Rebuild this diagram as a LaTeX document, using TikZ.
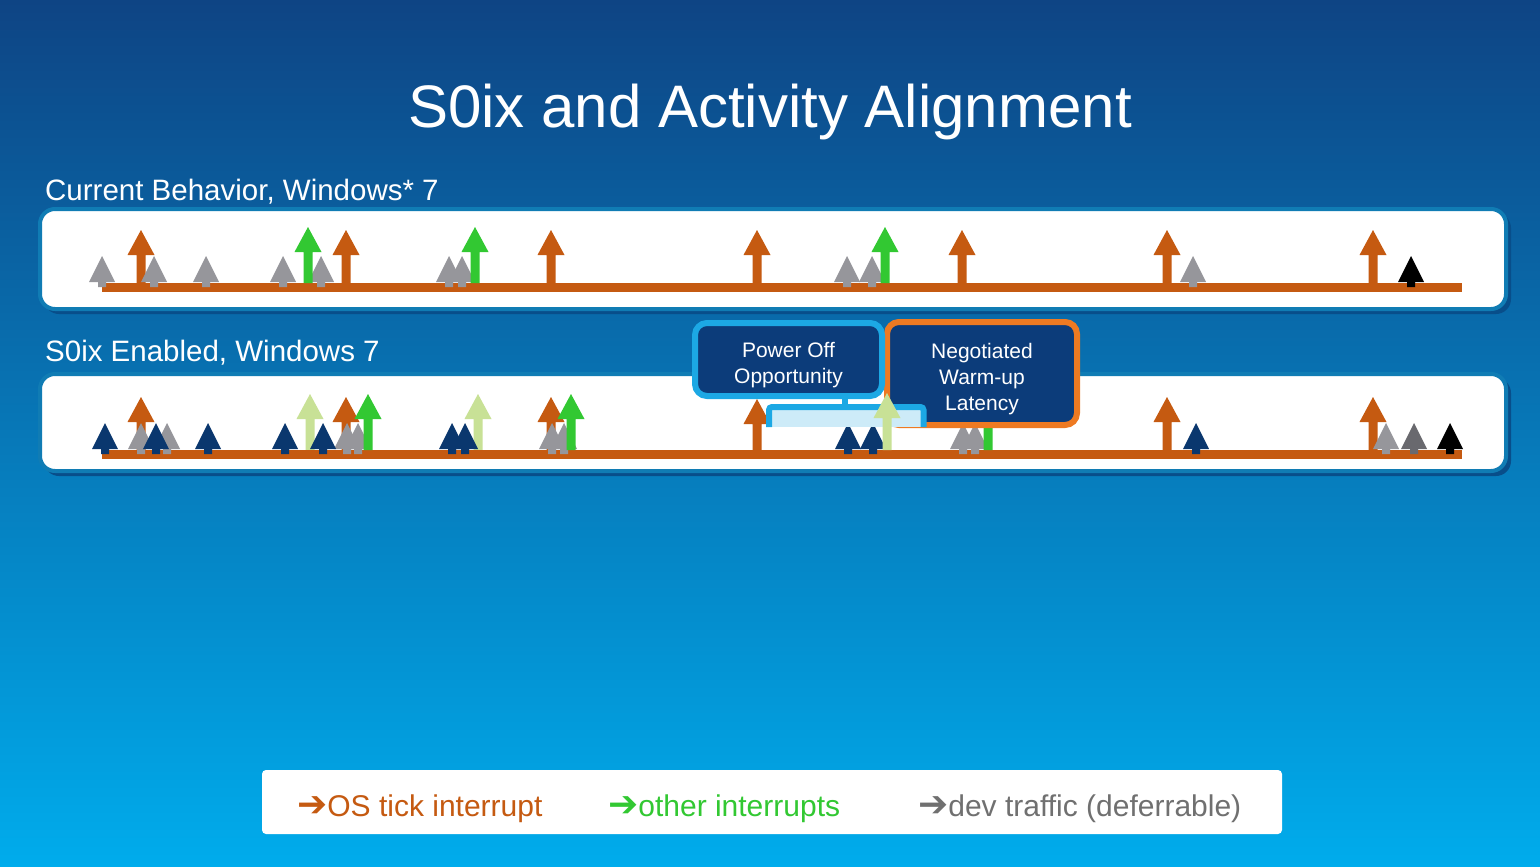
\documentclass[tikz,border=0pt]{standalone}
\usepackage{fontspec}
\setmainfont{Liberation Sans}
\newfontfamily\symfont{DejaVu Sans}
\definecolor{bgtop}{RGB}{14,68,132}
\definecolor{bgmid}{RGB}{8,120,192}
\definecolor{bgbot}{RGB}{0,172,236}
\definecolor{tick}{RGB}{197,90,17}
\definecolor{irq}{RGB}{50,200,50}
\definecolor{irqlight}{RGB}{200,225,150}
\definecolor{dev}{RGB}{150,150,155}
\definecolor{devdark}{RGB}{105,105,110}
\definecolor{navy}{RGB}{10,55,110}
\definecolor{panelrim}{RGB}{16,124,180}
\definecolor{panelshade}{RGB}{8,78,138}
\definecolor{callfill}{RGB}{12,60,122}
\definecolor{callblue}{RGB}{28,168,228}
\definecolor{callorange}{RGB}{238,122,34}
\definecolor{brkfill}{RGB}{205,235,248}
\definecolor{legtext}{RGB}{112,112,112}

\begin{document}
\begin{tikzpicture}[x=1pt,y=-1pt,
    titletext/.style={anchor=base,inner sep=0pt,text=white,font=\fontsize{60}{72}\selectfont},
    subtext/.style={anchor=base west,inner sep=0pt,text=white,font=\fontsize{29.5}{36}\selectfont},
    panel/.style={fill=white,draw=panelrim,line width=4pt,rounded corners=15pt},
    panelback/.style={fill=panelshade,rounded corners=15pt},
    timebar/.style={draw=tick,line width=9pt},
    callbox/.style={fill=callfill,line width=6pt,rounded corners=12pt,text=white,align=center,
        inner sep=0pt,font=\fontsize{21}{26}\selectfont},
    brkline/.style={draw=callblue,line width=6pt,rounded corners=3pt},
    legbox/.style={fill=white,rounded corners=4pt,minimum width=1020pt,minimum height=64pt,inner sep=0pt},
    legtext/.style={anchor=base west,inner sep=0pt,font=\fontsize{30}{36}\selectfont}]
        \def\bigarr#1#2#3#4{\fill[#1] (#2-4.5,#4) -- (#2-4.5,#3+25) -- (#2-13.5,#3+25) -- (#2,#3) -- (#2+13.5,#3+25) -- (#2+4.5,#3+25) -- (#2+4.5,#4) -- cycle;}
        \def\smallarr#1#2#3{\fill[#1] (#2-4,#3+4) -- (#2-4,#3-1) -- (#2-13,#3-1) -- (#2,#3-27) -- (#2+13,#3-1) -- (#2+4,#3-1) -- (#2+4,#3+4) -- cycle;}
        \def\callstrut{\rule{0pt}{27pt}}
        \def\legarr{{\symfont\fontsize{36}{36}\selectfont ➔}}
        \useasboundingbox (0,0) rectangle (1540,867);
        \shade[top color=bgtop,middle color=bgmid,bottom color=bgbot] (0,0) rectangle (1540,867);

        \node[titletext] (title) at (770,128) {S0ix and Activity Alignment};
        \node[subtext] (current) at (45,200) {Current Behavior, Windows* 7};
        \node[subtext] (enabled) at (45,361) {S0ix Enabled, Windows 7};

        \fill[panelback] (44,213) rectangle (1511,314);
        \draw[panel] (40,209) rectangle (1506,309);
        \fill[panelback] (44,378) rectangle (1511,476);
        \draw[panel] (40,374) rectangle (1506,471);

        \bigarr{tick}{141}{230}{287}
        \bigarr{tick}{346}{230}{287}
        \bigarr{tick}{551}{230}{287}
        \bigarr{tick}{757}{230}{287}
        \bigarr{tick}{962}{230}{287}
        \bigarr{tick}{1167}{230}{287}
        \bigarr{tick}{1373}{230}{287}
        \draw[timebar] (102,287.5) -- (1462,287.5);
        \smallarr{dev}{102}{283}
        \smallarr{dev}{154}{283}
        \smallarr{dev}{206}{283}
        \smallarr{dev}{283}{283}
        \smallarr{dev}{321}{283}
        \smallarr{dev}{449}{283}
        \smallarr{dev}{462}{283}
        \smallarr{dev}{847}{283}
        \smallarr{dev}{872}{283}
        \smallarr{dev}{1193}{283}
        \smallarr{black}{1411}{283}
        \bigarr{irq}{308}{227}{283}
        \bigarr{irq}{475}{227}{283}
        \bigarr{irq}{885}{227}{283}

        \bigarr{tick}{141}{397}{454}
        \bigarr{tick}{346}{397}{454}
        \bigarr{tick}{551}{397}{454}
        \bigarr{tick}{757}{399}{454}
        \bigarr{tick}{1167}{397}{454}
        \bigarr{tick}{1373}{397}{454}
        \bigarr{irqlight}{310}{394}{450}
        \bigarr{irqlight}{478}{394}{450}
        \draw[timebar] (102,454.5) -- (1462,454.5);
        \smallarr{dev}{141}{450}
        \smallarr{dev}{167}{450}
        \smallarr{dev}{347}{450}
        \smallarr{dev}{358}{450}
        \smallarr{dev}{552}{450}
        \smallarr{dev}{564}{450}
        \smallarr{dev}{963}{450}
        \smallarr{dev}{975}{450}
        \smallarr{dev}{1386}{450}
        \smallarr{devdark}{1414}{450}
        \bigarr{irq}{368}{394}{450}
        \bigarr{irq}{571}{394}{450}
        \bigarr{irq}{988}{394}{450}
        \smallarr{navy}{105}{450}
        \smallarr{navy}{156}{450}
        \smallarr{navy}{208}{450}
        \smallarr{navy}{285}{450}
        \smallarr{navy}{323}{450}
        \smallarr{navy}{452}{450}
        \smallarr{navy}{465}{450}
        \smallarr{navy}{848}{450}
        \smallarr{navy}{873}{450}
        \smallarr{navy}{1196}{450}
        \smallarr{black}{1450}{450}

        \node[callbox,draw=callorange,minimum width=190pt,minimum height=103pt] (warmup) at (982,373.5) {\callstrut Negotiated\\Warm-up\\Latency};
        \fill[brkfill] (769,407) rectangle (923.5,427);
        \draw[brkline] (769,427) -- (769,407) -- (923.5,407) -- (923.5,427);
        \node[callbox,draw=callblue,minimum width=187pt,minimum height=73pt] (poweroff) at (788.5,359.5) {\callstrut Power Off\\Opportunity};
        \coordinate (brk) at (845,407);
        \draw[brkline] (brk |- poweroff.south) -- (brk);
        \bigarr{irqlight}{887}{393}{450}

        \node[legbox] (legend) at (772,802) {};
        \node[legtext,text=tick] (legtick) at (297,816) {\legarr OS tick interrupt};
        \node[legtext,text=irq] (legirq) at (608,816) {\legarr other interrupts};
        \node[legtext,text=legtext] (legdev) at (918,816) {\legarr dev traffic (deferrable)};
 \end{tikzpicture}
\end{document}
